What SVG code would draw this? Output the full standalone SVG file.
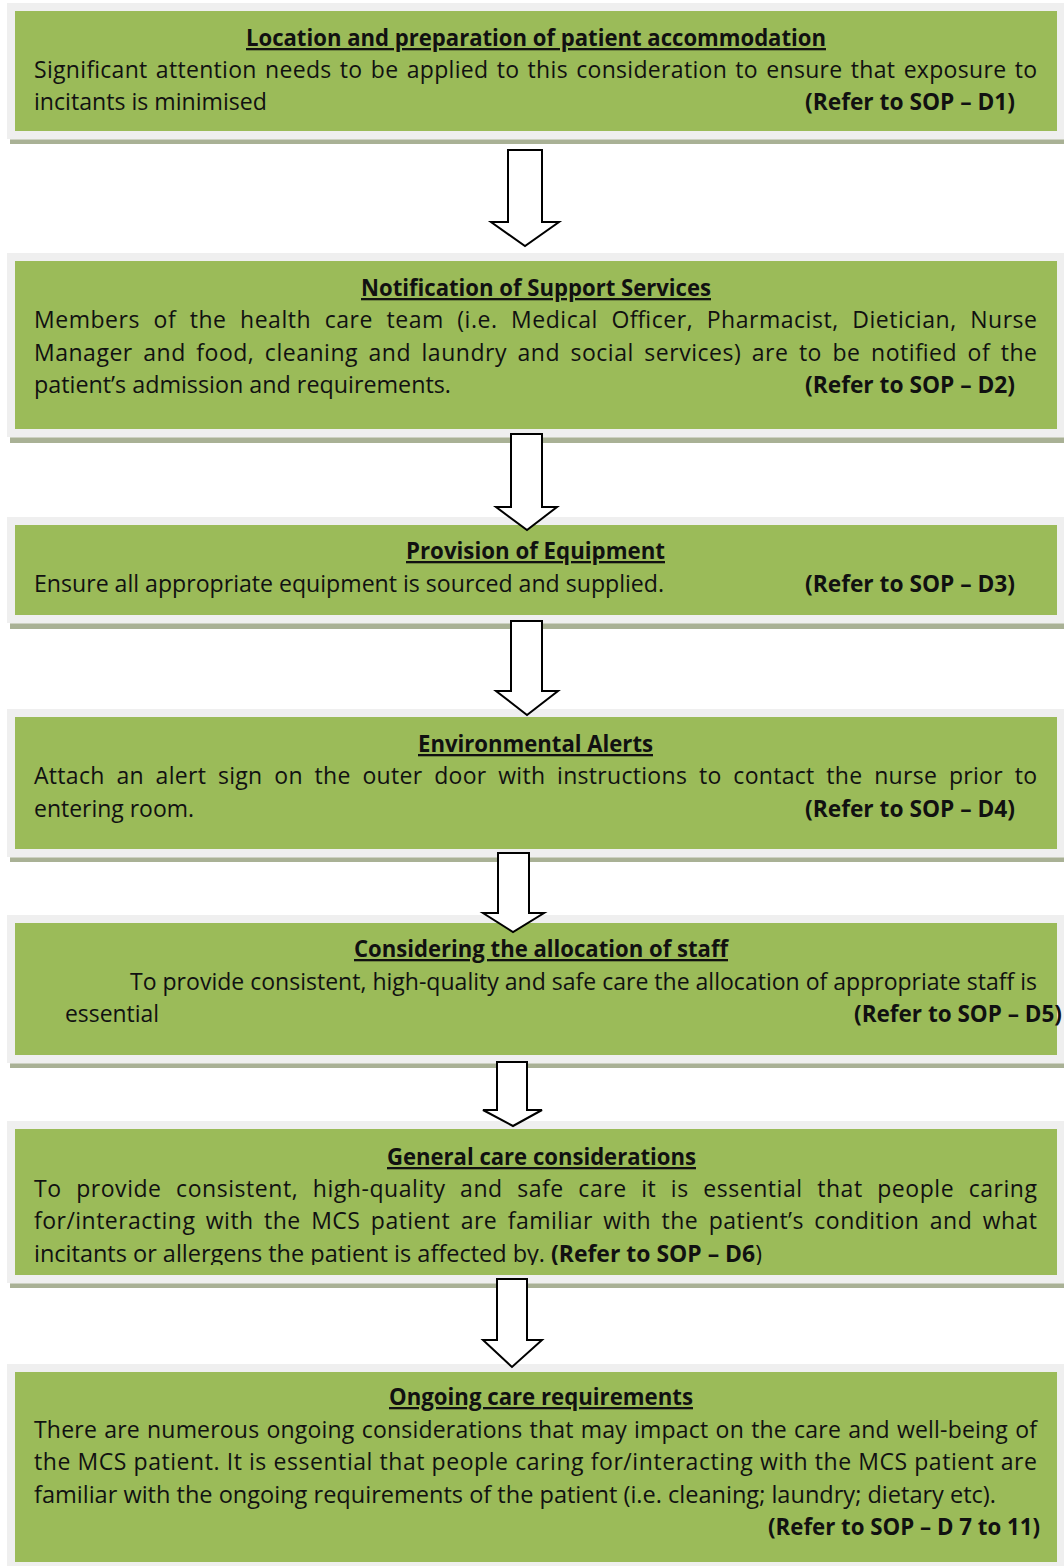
<svg xmlns="http://www.w3.org/2000/svg" width="1064" height="1566" viewBox="0 0 1064 1566">
<style>
.frame{fill:#efefef}
.green{fill:#9bbb59}
.sh{fill:#a9b195}
.shl{fill:#cdd1c2}
text{font-family:"Open Sans","Liberation Sans",sans-serif;font-size:23px;fill:#111}
.t{font-weight:bold;text-decoration:underline}
.b{font-weight:bold}
.arrow{fill:#fff;stroke:#000;stroke-width:2;stroke-linejoin:miter}
</style>
<defs>
<clipPath id="clip6"><rect x="0" y="1121" width="1064" height="144"/></clipPath>
</defs>
<rect width="1064" height="1566" fill="#fff"/>

<g id="box1">
<rect class="shl" x="10" y="138" width="1054" height="2"/>
<rect class="sh" x="10" y="140" width="1054" height="4"/>
<rect class="frame" x="7" y="3" width="1057" height="136"/>
<rect class="green" x="15" y="11" width="1042" height="120"/>
<text class="t" x="246" y="46" textLength="580" lengthAdjust="spacingAndGlyphs">Location and preparation of patient accommodation</text>
<text x="34" y="78" word-spacing="2" textLength="1003" lengthAdjust="spacing">Significant attention needs to be applied to this consideration to ensure that exposure to</text>
<text x="34" y="110" textLength="233" lengthAdjust="spacingAndGlyphs">incitants is minimised</text>
<text class="b" x="805" y="110" textLength="210" lengthAdjust="spacingAndGlyphs">(Refer to SOP – D1)</text>
</g>

<g id="box2">
<rect class="shl" x="10" y="436" width="1054" height="2"/>
<rect class="sh" x="10" y="438" width="1054" height="5"/>
<rect class="frame" x="7" y="253" width="1057" height="184"/>
<rect class="green" x="15" y="261" width="1042" height="168"/>
<text class="t" x="361" y="296" textLength="350" lengthAdjust="spacingAndGlyphs">Notification of Support Services</text>
<text x="34" y="328" word-spacing="7" textLength="1003" lengthAdjust="spacing">Members of the health care team (i.e. Medical Officer, Pharmacist, Dietician, Nurse</text>
<text x="34" y="361" word-spacing="4" textLength="1003" lengthAdjust="spacing">Manager and food, cleaning and laundry and social services) are to be notified of the</text>
<text x="34" y="393" textLength="417" lengthAdjust="spacingAndGlyphs">patient’s admission and requirements.</text>
<text class="b" x="805" y="393" textLength="210" lengthAdjust="spacingAndGlyphs">(Refer to SOP – D2)</text>
</g>

<g id="box3">
<rect class="shl" x="10" y="622" width="1054" height="2"/>
<rect class="sh" x="10" y="624" width="1054" height="5"/>
<rect class="frame" x="7" y="517" width="1057" height="106"/>
<rect class="green" x="15" y="525" width="1042" height="90"/>
<text class="t" x="406" y="559" textLength="259" lengthAdjust="spacingAndGlyphs">Provision of Equipment</text>
<text x="34" y="592" textLength="630" lengthAdjust="spacingAndGlyphs">Ensure all appropriate equipment is sourced and supplied.</text>
<text class="b" x="805" y="592" textLength="210" lengthAdjust="spacingAndGlyphs">(Refer to SOP – D3)</text>
</g>

<g id="box4">
<rect class="shl" x="10" y="856" width="1054" height="2"/>
<rect class="sh" x="10" y="858" width="1054" height="4"/>
<rect class="frame" x="7" y="709" width="1057" height="148"/>
<rect class="green" x="15" y="717" width="1042" height="132"/>
<text class="t" x="418" y="752" textLength="235" lengthAdjust="spacingAndGlyphs">Environmental Alerts</text>
<text x="34" y="784" word-spacing="5.5" textLength="1003" lengthAdjust="spacing">Attach an alert sign on the outer door with instructions to contact the nurse prior to</text>
<text x="34" y="817" textLength="160" lengthAdjust="spacingAndGlyphs">entering room.</text>
<text class="b" x="805" y="817" textLength="210" lengthAdjust="spacingAndGlyphs">(Refer to SOP – D4)</text>
</g>

<g id="box5">
<rect class="shl" x="10" y="1062" width="1054" height="2"/>
<rect class="sh" x="10" y="1064" width="1054" height="4"/>
<rect class="frame" x="7" y="915" width="1057" height="148"/>
<rect class="green" x="15" y="923" width="1042" height="132"/>
<text class="t" x="354" y="957" textLength="374" lengthAdjust="spacingAndGlyphs">Considering the allocation of staff</text>
<text x="130" y="990" textLength="907" lengthAdjust="spacingAndGlyphs">To provide consistent, high-quality and safe care the allocation of appropriate staff is</text>
<text x="65" y="1022" textLength="94" lengthAdjust="spacingAndGlyphs">essential</text>
<text class="b" x="854" y="1022" textLength="208" lengthAdjust="spacingAndGlyphs">(Refer to SOP – D5)</text>
</g>

<g id="box6">
<rect class="shl" x="10" y="1282" width="1054" height="2"/>
<rect class="sh" x="10" y="1284" width="1054" height="4"/>
<rect class="frame" x="7" y="1121" width="1057" height="162"/>
<rect class="green" x="15" y="1129" width="1042" height="146"/>
<text class="t" x="387" y="1165" textLength="309" lengthAdjust="spacingAndGlyphs">General care considerations</text>
<text x="34" y="1197" word-spacing="8" textLength="1003" lengthAdjust="spacing">To provide consistent, high-quality and safe care it is essential that people caring</text>
<text x="34" y="1229" word-spacing="4" textLength="1003" lengthAdjust="spacing">for/interacting with the MCS patient are familiar with the patient’s condition and what</text>
<g clip-path="url(#clip6)">
<text x="34" y="1262" textLength="511" lengthAdjust="spacingAndGlyphs">incitants or allergens the patient is affected by.</text>
<text x="551" y="1262" textLength="211" lengthAdjust="spacingAndGlyphs"><tspan class="b">(Refer to SOP – D6</tspan>)</text>
</g>
</g>

<g id="box7">
<rect class="frame" x="7" y="1364" width="1057" height="202"/>
<rect class="green" x="15" y="1372" width="1042" height="190"/>
<text class="t" x="389" y="1405" textLength="304" lengthAdjust="spacingAndGlyphs">Ongoing care requirements</text>
<text x="34" y="1438" word-spacing="1" textLength="1003" lengthAdjust="spacing">There are numerous ongoing considerations that may impact on the care and well-being of</text>
<text x="34" y="1470" textLength="1003" lengthAdjust="spacing">the MCS patient. It is essential that people caring for/interacting with the MCS patient are</text>
<text x="34" y="1503" textLength="962" lengthAdjust="spacingAndGlyphs">familiar with the ongoing requirements of the patient (i.e. cleaning; laundry; dietary etc).</text>
<text class="b" x="768" y="1535" textLength="272" lengthAdjust="spacingAndGlyphs">(Refer to SOP – D 7 to 11)</text>
</g>

<g id="connectors">
<polygon class="arrow" points="508,150 542,150 542,222 559,222 525,246 491,222 508,222"/>
<polygon class="arrow" points="511,434 542,434 542,507 557,507 527,530 496,507 511,507"/>
<polygon class="arrow" points="511,621 542,621 542,691 558,691 527,715 496,691 511,691"/>
<polygon class="arrow" points="498,853 529,853 529,913 544,913 513,932 483,913 498,913"/>
<polygon class="arrow" points="497,1062 527,1062 527,1110 542,1110 513,1126 483,1110 497,1110"/>
<polygon class="arrow" points="497,1279 527,1279 527,1340 542,1340 512,1367 483,1340 497,1340"/>
</g>
</svg>
